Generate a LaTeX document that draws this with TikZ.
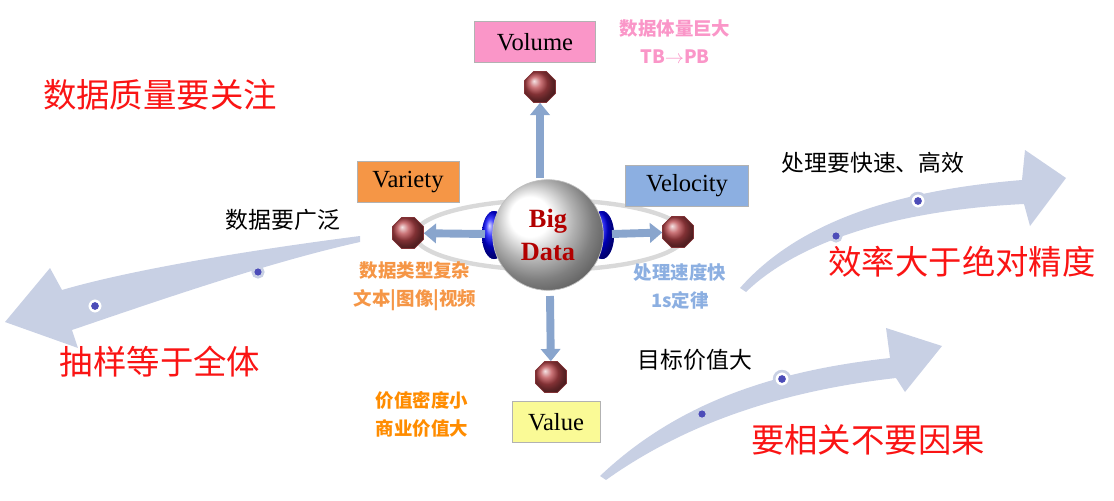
\documentclass[tikz,border=0pt]{standalone}
\usepackage{fontspec}
\setmainfont{Liberation Serif}
\newfontfamily\cjk{Noto Sans CJK SC}
\usetikzlibrary{shapes.geometric,arrows.meta}
\definecolor{swoosh}{RGB}{200,208,228}
\definecolor{ballred}{RGB}{185,70,75}
\definecolor{vorange}{RGB}{245,150,70}
\definecolor{vblue}{RGB}{140,175,225}
\definecolor{vpink}{RGB}{250,150,200}
\definecolor{vyellow}{RGB}{250,250,150}
\definecolor{bigred}{RGB}{250,20,20}
\tikzset{
  vbox/.style={draw=gray!60, minimum height=23pt, inner xsep=4pt, font=\fontsize{14}{16}\selectfont},
  ball/.style={regular polygon, regular polygon sides=8, minimum size=19pt, inner sep=0pt,
    draw=ballred!70!black, ball color=ballred},
  spoke/.style={-{Triangle[length=7pt,width=11pt]}, line width=4.5pt, draw=vblue!80!gray},
  redtxt/.style={text=bigred, font=\cjk\fontsize{19}{22}\selectfont},
  blktxt/.style={font=\cjk\fontsize{13}{15}\selectfont},
  smalltxt/.style={font=\cjk\bfseries\fontsize{10.5}{16}\selectfont, align=center},
  dot/.style={circle, fill=white, draw=swoosh, line width=1.5pt, minimum size=9pt, inner sep=0pt,
    path picture={\fill[blue!60!black!70] (path picture bounding box.center) circle (2.2pt);}}
}
\begin{document}
\begin{tikzpicture}[x=0.02cm,y=-0.02cm]
  \useasboundingbox (0,0) rectangle (1114,500);

  % swooshes
  \fill[swoosh] (360,236) .. controls (250,250) and (130,270) .. (62,290)
    -- (50,268) -- (5,322) -- (78,348) -- (72,330)
    .. controls (160,300) and (270,262) .. (360,242) -- cycle;
  \fill[swoosh] (740,288) .. controls (800,220) and (900,190) .. (1022,180)
    -- (1025,150) -- (1066,178) -- (1030,226) -- (1024,204)
    .. controls (900,210) and (800,240) .. (746,292) -- cycle;
  \fill[swoosh] (600,476) .. controls (680,400) and (780,370) .. (890,358)
    -- (886,328) -- (942,346) -- (905,392) -- (896,378)
    .. controls (790,390) and (690,420) .. (606,480) -- cycle;
  \node[dot] (d1) at (95,306) {};
  \node[dot, minimum size=6pt] (d2) at (258,272) {};
  \node[dot] (d3) at (918,201) {};
  \node[dot, minimum size=6pt] (d4) at (836,236) {};
  \node[dot] (d5) at (782,379) {};
  \node[dot, minimum size=6pt] (d6) at (702,414) {};

  % centre
  \draw[gray!30, line width=2.5pt] (550,235) ellipse (135 and 35);
  \fill[blue!80!black, ball color=blue] (494,235) ellipse (12 and 24);
  \fill[blue!80!black, ball color=blue] (602,235) ellipse (12 and 24);
  \node[circle, minimum size=63pt, ball color=white, draw=gray!50] (big) at (548,235) {};
  \node[font=\bfseries\fontsize{15}{19}\selectfont, text=red!70!black, align=center] (bigtxt) at (548,235) {Big\\Data};

  % four Vs
  \node[vbox, fill=vpink, minimum width=69pt] (volume) at (535,42) {Volume};
  \node[ball] (bvol) at (540,87) {};
  \node[vbox, fill=vorange, minimum width=58pt] (variety) at (408,182) {Variety};
  \node[ball] (bvar) at (408,233) {};
  \node[vbox, fill=vblue, minimum width=70pt] (velocity) at (687,186) {Velocity};
  \node[ball] (bvel) at (678,232) {};
  \node[vbox, fill=vyellow, minimum width=50pt] (value) at (556,422) {Value};
  \node[ball] (bval) at (551,377) {};

  \draw[spoke] (540,178) -- (bvol);
  \draw[spoke] (485,234) -- (bvar);
  \draw[spoke] (612,234) -- (bvel);
  \draw[spoke] (550,296) -- (bval);

  % notes
  \node[smalltxt, text=vpink] (nvol) at (675,42) {数据体量巨大\\TB$\rightarrow$PB};
  \node[smalltxt, text=vorange] (nvar) at (415,286) {数据类型复杂\\文本|图像|视频};
  \node[smalltxt, text=vblue] (nvel) at (680,286) {处理速度快\\1s定律};
  \node[smalltxt, text=orange!90!yellow] (nval) at (422,414) {价值密度小\\商业价值大};

  \node[blktxt] (t1) at (283,220) {数据要广泛};
  \node[blktxt] (t2) at (873,163) {处理要快速、高效};
  \node[blktxt] (t3) at (695,360) {目标价值大};

  \node[redtxt] (r1) at (160,95) {数据质量要关注};
  \node[redtxt] (r2) at (160,362) {抽样等于全体};
  \node[redtxt] (r3) at (962,262) {效率大于绝对精度};
  \node[redtxt] (r4) at (868,440) {要相关不要因果};
\end{tikzpicture}
\end{document}
